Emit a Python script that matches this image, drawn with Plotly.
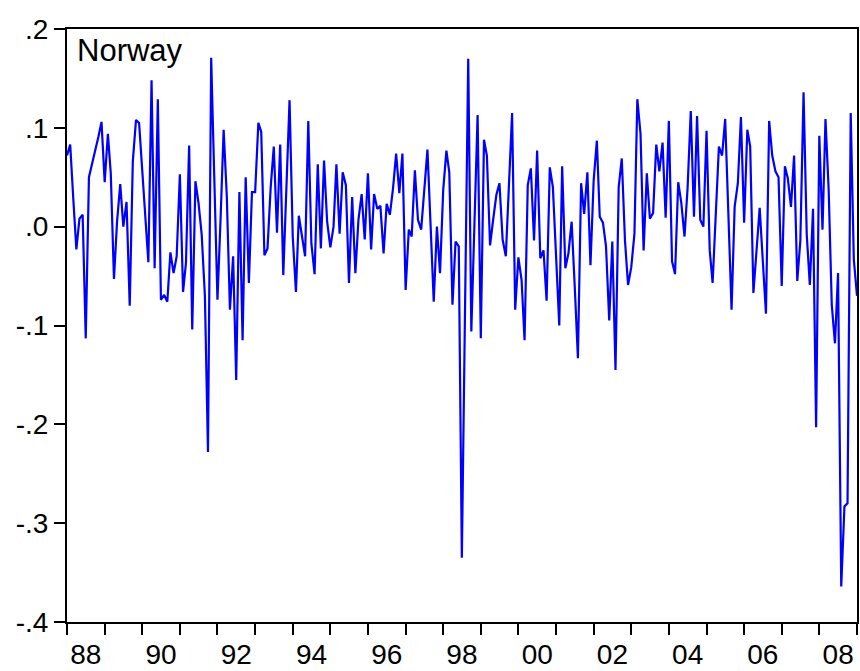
import numpy as np
import pandas as pd
import plotly.graph_objects as go

# Monthly observations, 1988M01 onward
values = [
    0.072, 0.083, 0.030, -0.023, 0.008, 0.012, -0.113, 0.050, 0.064, 0.076, 0.091, 0.106,
    0.045, 0.094, 0.054, -0.053, 0.005, 0.043, 0.000, 0.025, -0.080, 0.066, 0.108, 0.105,
    0.060, 0.010, -0.036, 0.148, -0.042, 0.129, -0.074, -0.069, -0.076, -0.026, -0.047, -0.030,
    0.053, -0.066, -0.037, 0.082, -0.104, 0.046, 0.024, -0.008, -0.070, -0.228, 0.171, 0.050,
    -0.074, 0.010, 0.098, 0.030, -0.084, -0.030, -0.155, 0.035, -0.115, 0.050, -0.057, 0.035,
    0.035, 0.105, 0.096, -0.029, -0.022, 0.040, 0.081, -0.006, 0.083, -0.049, 0.040, 0.128,
    -0.010, -0.066, 0.011, -0.010, -0.030, 0.107, -0.017, -0.048, 0.063, -0.022, 0.067, 0.005,
    -0.021, 0.000, 0.063, -0.007, 0.055, 0.042, -0.057, 0.030, -0.047, 0.007, 0.033, -0.013,
    0.054, -0.023, 0.033, 0.018, 0.021, -0.027, 0.023, 0.012, 0.039, 0.074, 0.034, 0.074,
    -0.064, -0.003, -0.010, 0.057, 0.007, -0.003, 0.037, 0.078, 0.000, -0.076, 0.000, -0.047,
    0.037, 0.077, 0.055, -0.079, -0.015, -0.020, -0.335, -0.080, 0.170, -0.106, 0.003, 0.113,
    -0.113, 0.088, 0.072, -0.019, 0.007, 0.032, 0.044, -0.013, -0.030, 0.040, 0.115, -0.084,
    -0.031, -0.054, -0.115, 0.042, 0.059, -0.014, 0.077, -0.032, -0.024, -0.075, 0.060, 0.040,
    -0.030, -0.100, 0.061, -0.042, -0.027, 0.005, -0.060, -0.133, 0.044, 0.013, 0.055, -0.039,
    0.047, 0.087, 0.010, 0.004, -0.020, -0.095, -0.015, -0.145, 0.040, 0.069, -0.014, -0.059,
    -0.041, -0.007, 0.129, 0.094, -0.024, 0.054, 0.008, 0.014, 0.083, 0.056, 0.085, 0.009,
    0.107, -0.035, -0.048, 0.045, 0.024, -0.010, 0.039, 0.117, 0.010, 0.112, 0.007, 0.000,
    0.097, -0.024, -0.057, 0.010, 0.081, 0.072, 0.109, 0.013, -0.084, 0.020, 0.044, 0.111,
    0.004, 0.098, 0.081, -0.067, -0.027, 0.019, -0.034, -0.088, 0.107, 0.072, 0.056, 0.050,
    -0.060, 0.061, 0.049, 0.020, 0.072, -0.055, -0.014, 0.136, -0.008, -0.059, 0.018, -0.203,
    0.092, -0.003, 0.109, 0.037, -0.079, -0.118, -0.047, -0.364, -0.283, -0.280, 0.115, -0.033,
    -0.070,
]
dates = pd.date_range("1988-01-01", periods=len(values), freq="MS")

x_label_years = list(range(1988, 2009, 2))
x_tick_text = ["88", "90", "92", "94", "96", "98", "00", "02", "04", "06", "08"]
y_tick_vals = [-0.4, -0.3, -0.2, -0.1, 0.0, 0.1, 0.2]
y_tick_text = ["-.4", "-.3", "-.2", "-.1", ".0", ".1", ".2"]
series_name = "Norway"

font_family = "Liberation Sans, Arial, sans-serif"

fig = go.Figure()
fig.add_trace(go.Scatter(
    x=dates, y=values, mode="lines",
    line=dict(color="#0000FF", width=2.2),
    name=series_name, showlegend=False, hoverinfo="skip",
))

fig.update_layout(
    width=860, height=671,
    margin=dict(l=67, r=3, t=29, b=49, autoexpand=False),
    paper_bgcolor="white", plot_bgcolor="white",
    font=dict(family=font_family, size=28, color="black"),
    showlegend=False,
)

fig.update_xaxes(
    type="date",
    range=["1988-01-01", "2009-01-01"],
    automargin=False,
    tickmode="array",
    tickvals=[f"{y}-07-02" for y in x_label_years],
    ticktext=x_tick_text,
    ticks="outside", ticklen=6, tickcolor="rgba(0,0,0,0)", tickwidth=1,
    minor=dict(ticks="outside", ticklen=11, tickwidth=1.5, tickcolor="black",
               tick0="1988-01-01", dtick="M12", showgrid=False),
    showgrid=False, zeroline=False,
    showline=True, linecolor="black", linewidth=2, mirror=True,
    tickfont=dict(size=28, family=font_family, color="black"),
)

fig.update_yaxes(
    range=[-0.4, 0.2],
    automargin=False,
    tickmode="array", tickvals=y_tick_vals, ticktext=y_tick_text,
    ticks="outside", ticklen=11, tickwidth=1.5, tickcolor="black",
    showgrid=False, zeroline=False,
    showline=True, linecolor="black", linewidth=2, mirror=True,
    tickfont=dict(size=28, family=font_family, color="black"),
)

fig.add_annotation(
    text=series_name, xref="paper", yref="paper", x=0, y=1,
    xanchor="left", yanchor="top", xshift=8, yshift=-2,
    showarrow=False, font=dict(size=31, family=font_family, color="black"),
)

fig.write_html(
    "out.html",
    config={"displayModeBar": False},
    post_script="document.body.style.margin='0';document.body.style.overflow='hidden';",
)
